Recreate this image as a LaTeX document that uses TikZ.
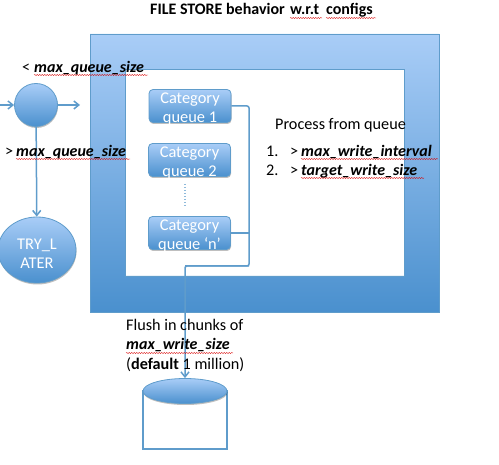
\documentclass[tikz,border=0pt]{standalone}
\usepackage{fontspec}
\setmainfont{Carlito}
\usetikzlibrary{arrows.meta,decorations.pathmorphing,shadows,shapes.geometric}
\definecolor{lightblue}{HTML}{A9CDF7}
\definecolor{darkblue}{HTML}{4A90CE}
\definecolor{lineblue}{HTML}{5F9CCB}
\newcommand{\lowered}{\rule{0pt}{17.5pt}}
\tikzset{
	label/.style={anchor=base west, inner sep=0pt, font=\fontsize{16.2}{16.2}\selectfont},
	config/.style={label, font=\fontsize{16}{16}\selectfont\bfseries\itshape},
	titlepart/.style={label, font=\fontsize{16}{16}\selectfont\bfseries},
	blueshape/.style={top color=lightblue, bottom color=darkblue, draw=lineblue, line width=0.8pt, text=white, align=center,
		font=\fontsize{16.4}{19}\selectfont, inner sep=0pt,
		drop shadow={shadow xshift=0.5pt, shadow yshift=-1.5pt, fill=black, opacity=0.25}},
	queuebox/.style={blueshape, rectangle, rounded corners=4pt, minimum width=82pt, minimum height=33pt, inner ysep=-5pt},
	link/.style={draw=lineblue, line width=1.5pt},
	arrowlink/.style={link, -{Straight Barb[length=5pt,width=8pt]}},
	spell/.style={draw=red!85!black, line width=0.4pt, decorate, decoration={snake, amplitude=0.5pt, segment length=2.5pt}}
}
\begin{document}
\begin{tikzpicture}[x=1pt,y=-1pt]
	\useasboundingbox (0,0) rectangle (499,465);
	% frame
	\shade[top color=lightblue, bottom color=darkblue, even odd rule] (90,34) rectangle (439,312) (125,69) rectangle (404,276);
	\draw[lineblue, line width=0.8pt] (90,34) rectangle (439,312);
	\draw[lineblue, line width=0.8pt] (125,69) rectangle (404,276);

	% queues
	\node[queuebox] (queueA) at (190,106) {\lowered Category\\queue 1};
	\node[queuebox] (queueB) at (189.5,160) {\lowered Category\\queue 2};
	\node[queuebox] (queueN) at (189.5,233) {\lowered Category\\queue ‘n’};
	\coordinate (dotsA) at (185,184);
	\coordinate (dotsB) at (185,207);
	\draw[lineblue!70, line width=1.5pt, dash pattern=on 1.5pt off 1.5pt] (dotsA) -- (dotsB);

	% left side
	\coordinate (inlet) at (0,105);
	\coordinate (outlet) at (80,105);
	\node[blueshape, circle, minimum size=43pt] (gate) at (36,105) {};
	\node[blueshape, ellipse, minimum width=78pt, minimum height=66pt] (later) at (37,250) {\lowered TRY\_L\\ATER};
	\draw[arrowlink] (inlet) -- (gate);
	\draw[arrowlink] (gate) -- (outlet);
	\draw[arrowlink] (gate) -- (later);

	% store
	\node[draw=lineblue, line width=1.5pt, fill=white, minimum width=84pt, minimum height=58pt, inner sep=0pt] (storebody) at (185,420) {};
	\node[blueshape, ellipse, minimum width=84pt, minimum height=25pt] (store) at (185,391) {};

	% bus
	\coordinate (busA) at (249,106);
	\coordinate (busN) at (249,233);
	\coordinate (busB) at (249,266);
	\coordinate (busC) at (185,266);
	\draw[link, rounded corners=2pt] (queueA.east) -- (busA) -- (busB) -- (busC);
	\draw[link, rounded corners=2pt] (queueN.east) -- (busN);
	\draw[arrowlink, rounded corners=2pt] (busB) -- (busC) -- (store.north);

	% title
	\node[titlepart] (title) at (150,15) {FILE STORE behavior};
	\node[titlepart] (titleB) at (290,15) {w.r.t};
	\node[titlepart] (titleC) at (326,15) {configs};
	\draw[spell] (290,18) -- (322,18);
	\draw[spell] (326,18) -- (376,18);

	% labels
	\node[label] (less) at (22,73) {<};
	\node[config] (lessconf) at (34,73) {max\_queue\_size};
	\draw[spell] (34,75) -- (148,75);
	\node[label] (more) at (5,157) {>};
	\node[config] (moreconf) at (16,157) {max\_queue\_size};
	\draw[spell] (16,159) -- (130,159);

	\node[label] (process) at (275,130) {Process from queue};
	\node[label] (itemA) at (266,157) {1.};
	\node[label] (itemAm) at (290,157) {>};
	\node[config] (interval) at (301,157) {max\_write\_interval};
	\draw[spell] (301,159) -- (438,159);
	\node[label] (itemB) at (266,176) {2.};
	\node[label] (itemBm) at (290,176) {>};
	\node[config] (target) at (301,176) {target\_write\_size};
	\draw[spell] (301,178) -- (424,178);

	\node[label] (flush) at (126,331) {Flush in chunks of};
	\node[config] (chunk) at (126,350) {max\_write\_size};
	\draw[spell] (126,353) -- (233,353);
	\node[label] (default) at (126,370) {(\textbf{default} 1 million)};
\end{tikzpicture}
\end{document}
